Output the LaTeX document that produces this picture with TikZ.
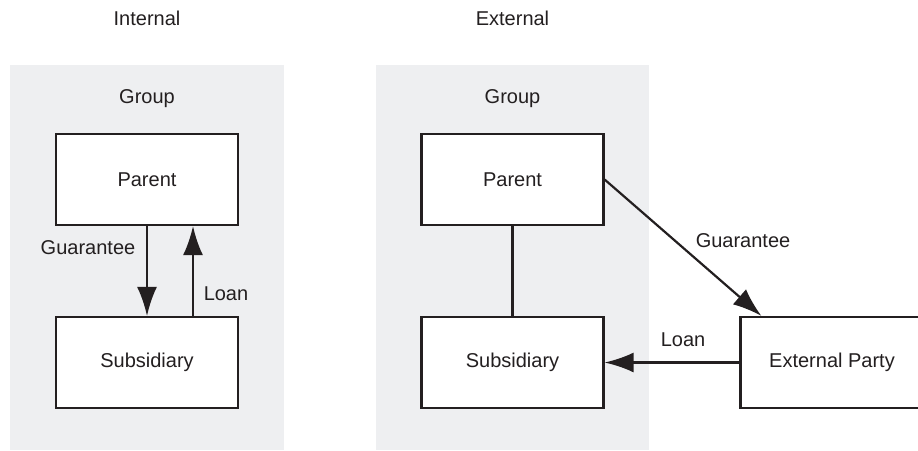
\documentclass[tikz,border=0pt]{standalone}
\usepackage{fontspec}
\setmainfont{Liberation Sans}
\usetikzlibrary{arrows.meta}
\definecolor{ink}{HTML}{231F20}
\definecolor{panel}{HTML}{EEEFF1}
\begin{document}
\begin{tikzpicture}[x=1pt,y=-1pt,
  every node/.style={text=ink, font=\fontsize{20}{24}\selectfont},
  entity/.style={draw=ink, fill=white, line width=2.2pt, minimum width=182pt, minimum height=91pt, inner sep=0pt},
  flow/.style={draw=ink, line width=2.2pt, -{Latex[length=29pt,width=20pt]}},
  link/.style={draw=ink, line width=2.2pt},
  lbl/.style={inner sep=0pt, anchor=center}]
  \useasboundingbox (0,0) rectangle (918,450);

  % group backgrounds
  \fill[panel] (10,65) rectangle (284,450);
  \fill[panel] (376,65) rectangle (649,450);

  % headings
  \node[lbl] (hint) at (147,18) {Internal};
  \node[lbl] (hext) at (512.5,18) {External};
  \node[lbl] (g1) at (147,99) {Group};
  \node[lbl] (g2) at (512.5,99) {Group};

  % internal arrangement
  \node[entity] (p1) at (147,179.5) {Parent};
  \node[entity] (s1) at (147,362.5) {Subsidiary};
  \draw[flow] (p1.south) -- (s1.north);
  \draw[flow] ([xshift=46pt]s1.north) -- ([xshift=46pt]p1.south);
  \node[lbl] (gl1) at (88,248) {Guarantee};
  \node[lbl] (ll1) at (226,294) {Loan};

  % external arrangement
  \node[entity] (p2) at (512.5,179.5) {Parent};
  \node[entity] (s2) at (512.5,362.5) {Subsidiary};
  \node[entity, minimum width=183pt] (ext) at (832,362.5) {External Party};
  \draw[link] (p2.south) -- (s2.north);
  \draw[flow] (p2.east) -- ([xshift=22pt]ext.north west);
  \draw[flow] (ext.west) -- (s2.east);
  \node[lbl] (gl2) at (743,241) {Guarantee};
  \node[lbl] (ll2) at (683,340) {Loan};
\end{tikzpicture}
\end{document}
